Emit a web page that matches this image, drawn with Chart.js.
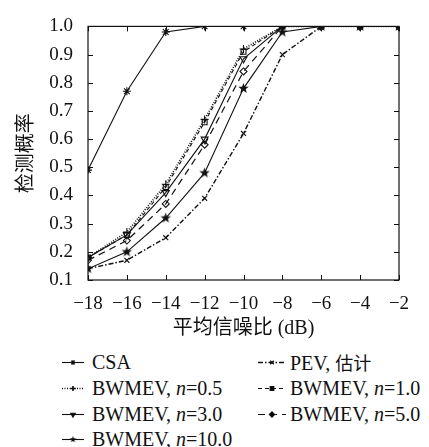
<!DOCTYPE html>
<html><head><meta charset="utf-8">
<script src="https://cdn.jsdelivr.net/npm/chart.js@4/dist/chart.umd.min.js"></script>
<style>
html,body{margin:0;padding:0;background:#fff;width:429px;height:447px;overflow:hidden;}
#wrap{position:absolute;left:0;top:0;width:429px;height:345px;}
.lg{position:absolute;font-family:"Liberation Serif","DejaVu Serif",serif;font-size:20px;color:#111;white-space:nowrap;line-height:22px;}
.lg canvas{position:absolute;top:5px;}
.lg span.t{position:absolute;top:0;}
.cjk{font-family:"Noto Sans CJK SC",sans-serif;font-size:18px;}
</style></head>
<body>
<div id="wrap"><canvas id="c"></canvas></div>
<div id="legend"></div>
<script>
// ---- data ----
const snrDb = [-18, -16, -14, -12, -10, -8, -6, -4, -2];
const yTicks = [0.1, 0.2, 0.3, 0.4, 0.5, 0.6, 0.7, 0.8, 0.9, 1.0];
const csa     = [0.49, 0.77, 0.98, 1.00, 1.00, 1.00, 1.00, 1.00, 1.00];
const pevEst  = [0.14, 0.17, 0.25, 0.39, 0.62, 0.90, 1.00, 1.00, 1.00];
const bw05    = [0.18, 0.27, 0.44, 0.67, 0.92, 1.00, 1.00, 1.00, 1.00];
const bw10    = [0.18, 0.26, 0.43, 0.66, 0.91, 1.00, 1.00, 1.00, 1.00];
const bw30    = [0.18, 0.26, 0.41, 0.60, 0.885, 1.00, 1.00, 1.00, 1.00];
const bw50    = [0.17, 0.24, 0.37, 0.58, 0.84, 1.00, 1.00, 1.00, 1.00];
const bw100   = [0.14, 0.20, 0.32, 0.48, 0.78, 0.98, 1.00, 1.00, 1.00];
const seriesNames = ['CSA', 'PEV, 估计', 'BWMEV, n=0.5', 'BWMEV, n=1.0', 'BWMEV, n=3.0', 'BWMEV, n=5.0', 'BWMEV, n=10.0'];

const INK = '#111';
function pentagram(r){
  const c = document.createElement('canvas');
  const s = Math.ceil(2*r+2); c.width = s; c.height = s;
  const g = c.getContext('2d'); g.fillStyle = INK; g.beginPath();
  for(let i=0;i<10;i++){
    const rad = i%2===0 ? r : r*0.42;
    const a = -Math.PI/2 + i*Math.PI/5;
    const px = s/2 + rad*Math.cos(a), py = s/2 + rad*Math.sin(a);
    i===0 ? g.moveTo(px,py) : g.lineTo(px,py);
  }
  g.closePath(); g.fill(); return c;
}
const starImg = pentagram(5.5);
const starImgSmall = pentagram(3.5);

const toXY = arr => arr.map((v,i)=>({x:snrDb[i], y:v}));
const styles = [
  {data:csa,    dash:[],           ps:'star',     r:4,   rot:0, w:1.1},
  {data:pevEst, dash:[5,2,1.5,2],  ps:'crossRot', r:3.5, rot:0, w:1.4},
  {data:bw05,   dash:[1,1.5],      ps:'cross',    r:4,   rot:0, w:1.6},
  {data:bw10,   dash:[4,3],        ps:'rect',     r:3.5, rot:0, w:1.1},
  {data:bw30,   dash:[],           ps:'triangle', r:4,   rot:180, w:1.1},
  {data:bw50,   dash:[7,5],        ps:'rectRot',  r:3.5, rot:0, w:1.2},
  {data:bw100,  dash:[],           ps:starImg,    r:5,   rot:0, w:1.1},
];
const datasets = styles.map((s,i)=>({
  label: seriesNames[i],
  data: toXY(s.data),
  borderColor: INK, backgroundColor: 'rgba(0,0,0,0)',
  borderWidth: s.w, borderDash: s.dash,
  pointStyle: s.ps, pointRadius: s.r, pointRotation: s.rot,
  pointBorderColor: INK, pointBackgroundColor: 'rgba(0,0,0,0)', pointBorderWidth: 1.1,
  tension: 0, fill: false
}));

const boxTicks = {
  id:'boxTicks',
  afterDraw(chart){
    const {ctx, chartArea:a, scales:{x,y}} = chart;
    ctx.save(); ctx.strokeStyle = INK; ctx.lineWidth = 1.2;
    ctx.strokeRect(a.left, a.top, a.right-a.left, a.bottom-a.top);
    ctx.lineWidth = 1; const L = 5;
    ctx.beginPath();
    snrDb.forEach(v=>{const px = Math.round(x.getPixelForValue(v))+0.5;
      ctx.moveTo(px,a.bottom); ctx.lineTo(px,a.bottom-L);
      ctx.moveTo(px,a.top); ctx.lineTo(px,a.top+L);});
    yTicks.forEach(v=>{const py = Math.round(y.getPixelForValue(v))+0.5;
      ctx.moveTo(a.left,py); ctx.lineTo(a.left+L,py);
      ctx.moveTo(a.right,py); ctx.lineTo(a.right-L,py);});
    ctx.stroke(); ctx.restore();
  }
};

const tickFont = {family:'"Liberation Serif", serif', size:19};
const titleFont = {family:'"Liberation Serif", "Noto Sans CJK SC", serif', size:20};
const chart = new Chart(document.getElementById('c'), {
  type:'line',
  data:{datasets},
  options:{
    responsive:true, maintainAspectRatio:false, animation:false,
    layout:{padding:{left:15, right:30, top:21, bottom:0}},
    plugins:{legend:{display:false}, tooltip:{enabled:false}},
    scales:{
      x:{type:'linear', min:snrDb[0], max:snrDb[snrDb.length-1],
        afterBuildTicks(sc){ sc.ticks = snrDb.map(v=>({value:v})); },
        afterFit(sc){ sc.height = 65; },
        grid:{display:false, drawTicks:false}, border:{display:false},
        ticks:{color:INK, font:tickFont, padding:13, maxRotation:0,
          callback:v=>String(v).replace('-','\u2212')},
        title:{display:true, text:'平均信噪比 (dB)', color:INK,
          font:titleFont, padding:{top:2}}
      },
      y:{min:yTicks[0], max:yTicks[yTicks.length-1],
        afterBuildTicks(sc){ sc.ticks = yTicks.map(v=>({value:v})); },
        afterFit(sc){ sc.width = 73; },
        grid:{display:false, drawTicks:false}, border:{display:false},
        ticks:{color:INK, font:tickFont, padding:15, callback:v=>Number(v).toFixed(1)},
        title:{display:true, text:'检测概率', color:INK,
          font:titleFont, padding:{top:0,bottom:0}}
      }
    }
  },
  plugins:[boxTicks]
});

// ---- HTML legend from datasets ----
const lg = document.getElementById('legend');
const rowsY = [351, 377, 403, 428];
const colX = [{line:62, w:22, text:92}, {line:258, w:28, text:290}];
datasets.forEach((ds,i)=>{
  const row = Math.floor(i/2), col = i%2;
  const d = document.createElement('div'); d.className='lg';
  d.style.left = colX[col].line+'px'; d.style.top = rowsY[row]+'px';
  const cv = document.createElement('canvas'); cv.width = colX[col].w; cv.height = 12;
  cv.style.left='0px';
  const g = cv.getContext('2d');
  g.strokeStyle = INK; g.lineWidth = ds.borderWidth; g.setLineDash(ds.borderDash);
  g.beginPath(); g.moveTo(0,6.5); g.lineTo(cv.width,6.5); g.stroke(); g.setLineDash([]);
  const ps = ds.pointStyle===starImg ? starImgSmall : ds.pointStyle;
  Chart.helpers.drawPoint(g, {pointStyle:ps, radius:2.6, rotation:ds.pointRotation, borderWidth:1}, cv.width/2, 6.5);
  d.appendChild(cv);
  const t = document.createElement('span'); t.className='t';
  t.style.left = (colX[col].text - colX[col].line)+'px';
  const lab = ds.label;
  const m = lab.match(/^(.*, )n(=.*)$/);
  if (m) { t.innerHTML = m[1] + '<i>n</i>' + m[2]; }
  else if (lab.indexOf('估计')>=0) { t.innerHTML = 'PEV, <span class="cjk">估计</span>'; }
  else t.textContent = lab;
  d.appendChild(t); lg.appendChild(d);
});
</script>
</body></html>
